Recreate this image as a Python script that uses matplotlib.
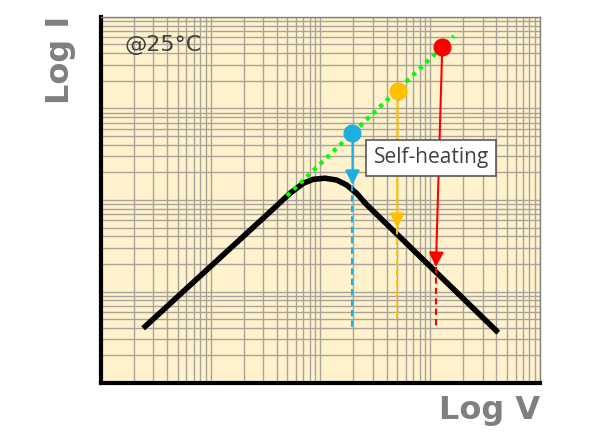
import matplotlib
matplotlib.use('Agg')
import matplotlib.pyplot as plt

# I-V curve (log-log, arbitrary units)
curve_v = [2.43, 34.7, 52.7, 69.7, 85.9, 110, 141, 173, 214, 260, 4170]
curve_i = [3.96, 73.9, 118, 152, 168, 173, 165, 146, 118, 90.4, 3.55]

# extension of the rising part (no self-heating)
ideal_v = [49.5, 1645]
ideal_i = [111, 6200]

# three operating points: start on ideal line, end on real curve
point_colors = ['#1cb0e0', '#ffc000', '#ff0000']
start_v = [196, 505, 1288]
start_i = [536, 1553, 4733]
end_v = [196, 500, 1127]
end_i = [146, 49.4, 18.5]
drop_i = [4.09, 4.64, 4.09]


def main():
    fig = plt.figure(figsize=(6, 4.4), dpi=100)
    ax = fig.add_axes([0.168, 0.1295, 0.732, 0.832])
    ax.set_xscale('log')
    ax.set_yscale('log')
    ax.set_xlim(1, 1e4)
    ax.set_ylim(1, 1e4)
    ax.set_facecolor('#fff2cc')
    ax.grid(which='both', color='#a8a49a', lw=1)
    ax.set_axisbelow(True)
    ax.tick_params(which='both', length=0, labelleft=False, labelbottom=False)

    for side in ['top', 'right']:
        ax.spines[side].set_color('#808080')
        ax.spines[side].set_linewidth(1)
    for side in ['left', 'bottom']:
        ax.spines[side].set_color('black')
        ax.spines[side].set_linewidth(3)

    ax.plot(curve_v, curve_i, color='black', lw=4, solid_capstyle='butt',
            solid_joinstyle='round', zorder=3)
    ax.plot(ideal_v, ideal_i, color='#00ff00', lw=3, linestyle=(0, (1, 1.2)),
            dash_capstyle='butt', zorder=4)

    for k in range(3):
        c = point_colors[k]
        ax.annotate('', xy=(end_v[k], end_i[k]), xytext=(start_v[k], start_i[k]),
                    arrowprops=dict(arrowstyle='-|>', color=c, lw=1.5,
                                    mutation_scale=22, shrinkA=0, shrinkB=0),
                    zorder=5)
        ax.plot([end_v[k], end_v[k]], [end_i[k], drop_i[k]], color=c, lw=1.5,
                linestyle=(0, (3, 2)), zorder=4)
        ax.plot(start_v[k], start_i[k], 'o', color=c, ms=12, zorder=6)

    ax.text(0.752, 0.615, 'Self-heating', transform=ax.transAxes,
            ha='center', va='center', fontsize=15, color='#404040', zorder=7,
            family='Open Sans',
            bbox=dict(boxstyle='square,pad=0.35', fc='white', ec='#595959', lw=1.2))
    ax.text(0.055, 0.923, '@25°C', transform=ax.transAxes, ha='left',
            va='center', fontsize=16, color='#404040')

    fig.text(0.1, 0.965, 'Log I', rotation=90, ha='center', va='top',
             fontsize=23, fontweight='bold', color='#7f7f7f')
    fig.text(0.9, 0.068, 'Log V', ha='right', va='center',
             fontsize=23, fontweight='bold', color='#7f7f7f')

    fig.savefig('out.png', dpi=100)
    plt.close(fig)


if __name__ == '__main__':
    main()
